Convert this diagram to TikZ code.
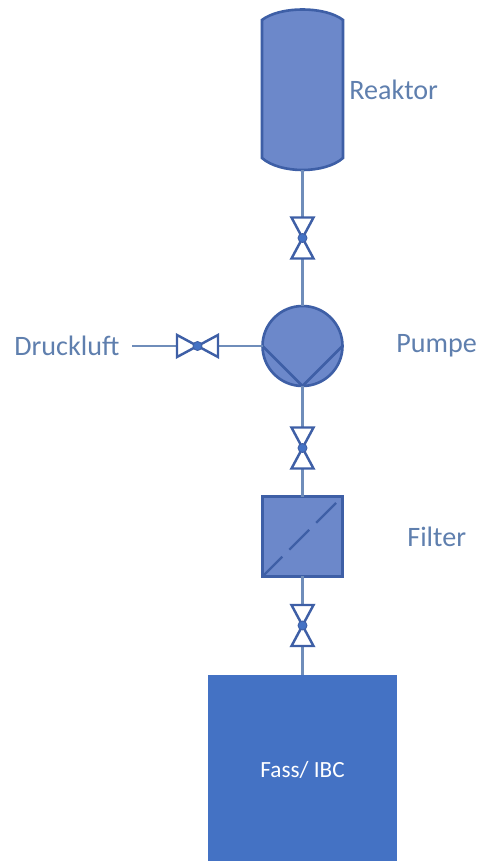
\documentclass[tikz,border=0pt]{standalone}
\usepackage{fontspec}
\setmainfont{Carlito}
\usetikzlibrary{positioning,calc}
\definecolor{fassblue}{HTML}{4472C4}
\definecolor{partblue}{HTML}{6C88CA}
\definecolor{edgeblue}{HTML}{3E5FA6}
\definecolor{pipeblue}{HTML}{6F8DBA}
\definecolor{labelblue}{HTML}{5F7FAE}

\begin{document}
\begin{tikzpicture}[
    x=0.02cm,y=-0.02cm,
    every node/.style={font=\fontsize{16}{19}\selectfont},
    part/.style={draw=edgeblue,fill=partblue,line width=1.5pt},
    pipe/.style={draw=pipeblue,line width=1.5pt},
    valve/.style={minimum width=0.44cm,minimum height=0.82cm,inner sep=0pt,outer sep=0pt},
    valveside/.style={minimum width=0.82cm,minimum height=0.44cm,inner sep=0pt,outer sep=0pt},
    bowtie/.style={draw=edgeblue,line width=1.4pt,line join=miter},
    ball/.style={circle,fill=fassblue,draw=edgeblue,line width=0.5pt,minimum size=0.18cm,inner sep=0pt},
    label/.style={text=labelblue,inner sep=0pt},
]
\useasboundingbox (0,0) rectangle (477,861);

% Reactor
\node[minimum width=1.62cm,minimum height=3.2cm,inner sep=0pt,outer sep=0pt] (reaktor) at (302.5,90) {};
\draw[part] (262,20) .. controls (280,6) and (325,6) .. (343,20)
    -- (343,158) .. controls (325,174) and (280,174) .. (262,158) -- cycle;
\node[label,anchor=west] (reaktorlabel) at (349,90) {Reaktor};

% Pump
\node[part,circle,minimum size=1.6cm,inner sep=0pt,outer sep=0pt] (pumpe) at (302.5,346) {};
\draw[part,fill=none] (pumpe.west) -- (pumpe.south) -- (pumpe.east);
\node[label,anchor=west] (pumpelabel) at (396,346) {Pumpe};

% Filter
\node[part,minimum size=1.6cm,inner sep=0pt,outer sep=0pt] (filter) at (302.5,536.5) {};
\draw[part,fill=none,line width=1.3pt,dash pattern=on 0.56cm off 0.2cm] (filter.south west) -- (filter.north east);
\node[label,anchor=west] (filterlabel) at (407,537) {Filter};

% Drum (runs off the page)
\node[fill=fassblue,text=white,minimum width=3.8cm,minimum height=3.8cm,inner sep=0pt,outer sep=0pt,
    font=\fontsize{13.2}{15}\selectfont] (fass) at (302.5,770) {Fass/ IBC};

% Air inlet
\node[label,anchor=west] (druckluft) at (14,346) {Druckluft};
\coordinate (luft) at (132,346);

% Valves
\node[valve] (vone) at (302.5,238) {};
\node[valve] (vtwo) at (302.5,448) {};
\node[valve] (vthree) at (302.5,625.5) {};
\node[valveside] (vair) at (197.5,346) {};

% Pipes
\draw[pipe] (reaktor.south) -- (vone.north);
\draw[pipe] (vone.south) -- (pumpe.north);
\draw[pipe] (pumpe.south) -- (vtwo.north);
\draw[pipe] (vtwo.south) -- (filter.north);
\draw[pipe] (filter.south) -- (vthree.north);
\draw[pipe] (vthree.south) -- (fass.north);
\draw[pipe] (luft) -- (vair.west);
\draw[pipe] (vair.east) -- (pumpe.west);

% Valve bodies
\foreach \v in {vone,vtwo,vthree}{
  \draw[bowtie] (\v.north west) -- (\v.north east) -- (\v.south west) -- (\v.south east) -- cycle;
  \node[ball] (\v ball) at (\v.center) {};
}
\draw[bowtie] (vair.north west) -- (vair.south west) -- (vair.north east) -- (vair.south east) -- cycle;
\node[ball] (vairball) at (vair.center) {};
\end{tikzpicture}
\end{document}
